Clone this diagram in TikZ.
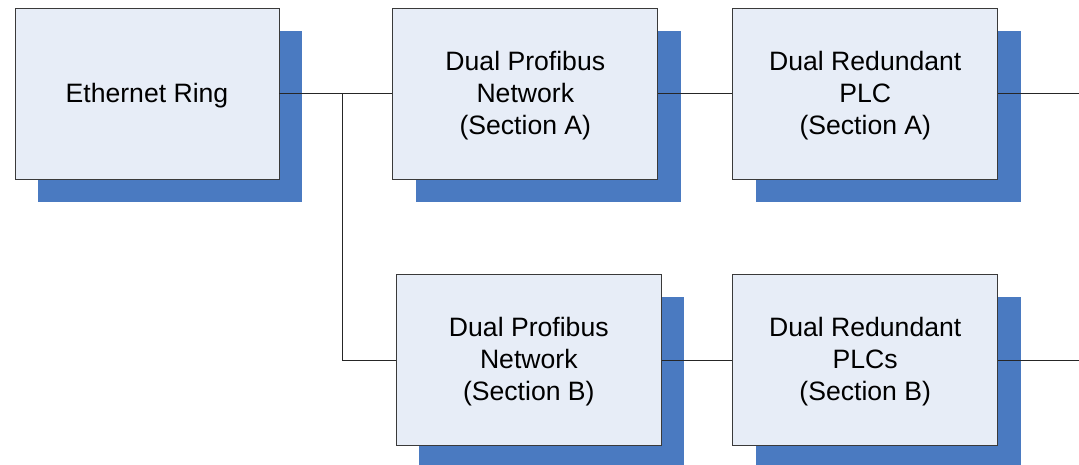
\documentclass[tikz,border=0pt]{standalone}
\usepackage{fontspec}
\setmainfont{Liberation Sans}
\usetikzlibrary{shadows}
\definecolor{boxfill}{HTML}{E7EDF7}
\definecolor{shadowblue}{HTML}{4A7AC1}
\definecolor{boxline}{HTML}{3A3A3A}
\begin{document}
\begin{tikzpicture}[x=1pt,y=-1pt,
  caption/.style={align=center, inner sep=0pt, yshift=-2pt,
    font=\fontsize{26.6}{32}\selectfont},
  unit/.style={draw=boxline, line width=0.9pt, fill=boxfill,
    minimum width=265pt, minimum height=170.5pt, inner sep=0pt,
    general shadow={fill=shadowblue, shadow xshift=23pt, shadow yshift=-22.5pt},
    label={[caption]center:#1}},
  link/.style={draw=black!85, line width=1pt}]
  \useasboundingbox (0,0) rectangle (1079,465);
  \clip (0,0) rectangle (1079,465);

  % network blocks
  \node[unit={Ethernet Ring}, minimum width=264pt] (eth) at (147,94) {};
  \node[unit={Dual Profibus\\Network\\(Section A)}] (profA) at (525.3,94) {};
  \node[unit={Dual Redundant\\PLC\\(Section A)}] (plcA) at (865.3,94) {};
  \node[unit={Dual Profibus\\Network\\(Section B)}] (profB) at (528.8,360) {};
  \node[unit={Dual Redundant\\PLCs\\(Section B)}] (plcB) at (865.2,360) {};

  % branch point and open ends
  \coordinate (split) at (342,94);
  \coordinate (outA) at (1079,94);
  \coordinate (outB) at (1079,360);

  % connectors
  \draw[link] (eth.east) -- (profA.west);
  \draw[link] (split) |- (profB.west);
  \draw[link] (profA.east) -- (plcA.west);
  \draw[link] (plcA.east) -- (outA);
  \draw[link] (profB.east) -- (plcB.west);
  \draw[link] (plcB.east) -- (outB);
\end{tikzpicture}
\end{document}
